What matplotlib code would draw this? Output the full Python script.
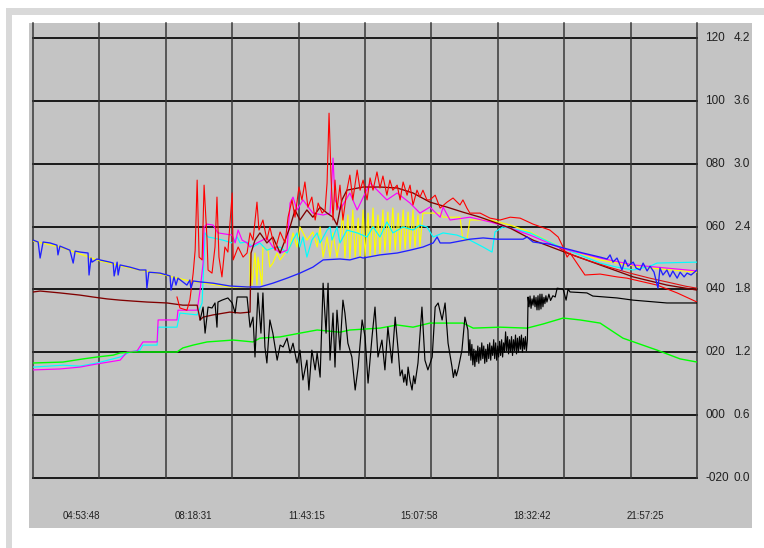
import matplotlib
matplotlib.use('Agg')
import matplotlib.pyplot as plt
import matplotlib.transforms as mtransforms
from matplotlib.patches import Rectangle

plt.rcParams['font.family'] = ['Liberation Sans Narrow', 'Liberation Sans', 'DejaVu Sans']

# time axis in hours of day, values on the left (-20..120) scale
x_start, x_end = 3.445, 23.53
time_labels = ['04:53:48', '08:18:31', '11:43:15', '15:07:58', '18:32:42', '21:57:25']
left_scale = ['120', '100', '080', '060', '040', '020', '000', '-020']
right_scale = ['4.2', '3.6', '3.0', '2.4', '1.8', '1.2', '0.6', '0.0']
scale_values = [120, 100, 80, 60, 40, 20, 0, -20]

t_blue = [3.45, 3.60, 3.66, 3.75, 3.96, 4.17, 4.20, 4.26, 4.56, 4.66, 4.72, 4.87, 5.11, 5.14, 5.20, 5.23,
          5.38, 5.47, 5.77, 5.87, 5.90, 5.99, 6.02, 6.08, 6.38, 6.68, 6.86, 6.89, 6.95, 7.29, 7.59, 7.62,
          7.71, 7.77, 7.83, 8.10, 8.19, 8.22, 8.29, 8.50, 8.89, 9.40, 9.92, 10.31, 10.70, 11.13, 11.52,
          11.91, 12.22, 12.73, 13.03, 13.34, 13.43, 13.94, 14.46, 14.85, 15.24, 15.55, 15.67, 15.76,
          16.06, 16.36, 16.66, 17.06, 17.48, 17.88, 18.27, 18.39, 18.57, 19.08, 19.60, 20.08, 20.60,
          20.81, 20.90, 20.99, 21.11, 21.20, 21.26, 21.35, 21.44, 21.60, 21.69, 21.81, 21.90, 22.02,
          22.11, 22.23, 22.35, 22.41, 22.50, 22.62, 22.71, 22.80, 22.93, 23.02, 23.14, 23.23, 23.35, 23.53]
v_blue = [55.7, 55.1, 50.0, 55.1, 54.8, 54.1, 51.0, 53.8, 52.5, 48.4, 52.2, 51.9, 51.6, 44.6, 50.0, 48.7,
          49.7, 49.4, 48.7, 48.4, 44.3, 48.7, 44.6, 47.8, 47.1, 46.2, 46.2, 40.4, 45.5, 45.2, 44.3, 39.8,
          44.0, 41.4, 43.6, 41.4, 43.0, 40.4, 42.7, 42.4, 42.0, 41.1, 40.8, 40.8, 42.0, 43.6, 45.2,
          47.1, 49.4, 49.7, 49.4, 50.3, 50.0, 51.0, 51.6, 52.5, 53.5, 54.8, 56.7, 54.8,
          54.8, 55.4, 56.0, 56.4, 56.0, 56.0, 56.0, 56.7, 55.1, 54.4, 52.9, 51.6, 50.3,
          49.7, 51.0, 48.7, 50.0, 47.8, 46.2, 49.4, 47.4, 48.7, 46.8, 46.2, 48.4, 45.9,
          47.4, 45.5, 40.4, 46.8, 44.6, 46.2, 44.0, 45.9, 43.6, 45.5, 44.0, 45.2, 44.6, 46.2]

t_yellow = [3.45, 4.26, 5.47, 6.38, 7.29, 8.19, 9.40, 10.01, 10.01, 10.07, 10.16, 10.22, 10.25, 10.37,
            10.40, 10.55, 10.61, 10.70, 10.83, 10.92, 11.07, 11.22, 11.31, 11.43, 11.52, 11.73, 11.91,
            12.04, 12.13, 12.22, 12.34, 12.43, 12.52, 12.64, 12.73, 12.82, 12.88, 12.97, 13.03, 13.12,
            13.19, 13.28, 13.34, 13.43, 13.49, 13.58, 13.64, 13.73, 13.79, 13.88, 13.94, 14.03, 14.09,
            14.18, 14.24, 14.33, 14.40, 14.49, 14.55, 14.64, 14.70, 14.79, 14.85, 14.94, 15.00, 15.09,
            15.15, 15.24, 15.45, 15.76, 15.85, 16.36, 16.45, 16.57, 16.66, 17.27, 17.88, 18.48, 19.39,
            20.60, 21.81, 23.53]
v_yellow = [55.4, 53.5, 49.1, 46.8, 44.9, 42.7, 40.8, 40.8, 51.6, 41.4, 51.6, 41.4, 50.3, 41.4,
            53.5, 52.5, 47.1, 48.4, 51.6, 49.4, 51.6, 53.5, 58.0, 53.5, 59.9, 55.7, 58.3,
            53.5, 59.9, 50.3, 56.7, 50.3, 58.0, 50.3, 55.7, 64.6, 50.0, 63.7, 50.0, 65.3,
            50.3, 62.7, 50.0, 65.3, 50.6, 64.3, 50.3, 65.9, 51.0, 63.7, 51.3, 65.3, 51.9,
            64.6, 51.9, 65.9, 52.5, 64.3, 52.5, 65.3, 52.9, 64.6, 53.2, 65.3, 53.5, 63.7,
            53.8, 64.3, 64.3, 64.3, 63.0, 63.0, 55.7, 55.7, 62.1, 62.1, 60.5, 58.3, 53.5,
            49.4, 47.1, 45.5]

t_cyan = [3.45, 4.35, 4.87, 5.38, 6.08, 6.38, 6.68, 6.77, 7.20, 7.23, 7.80, 7.89, 8.41, 8.56, 8.59,
          8.65, 8.74, 8.89, 9.19, 9.47, 9.62, 9.71, 9.92, 10.10, 10.31, 10.52, 10.70, 10.92, 11.13,
          11.31, 11.43, 11.52, 11.61, 11.73, 11.88, 12.04, 12.13, 12.34, 12.43, 12.49, 12.64, 12.73,
          12.94, 13.25, 13.55, 13.73, 13.94, 14.15, 14.33, 14.64, 14.94, 15.15, 15.36, 15.55, 15.85,
          16.27, 16.66, 17.06, 17.33, 17.42, 17.66, 17.88, 18.48, 19.39, 20.60, 21.11, 21.60, 22.11,
          22.32, 23.53]
v_cyan = [15.3, 15.9, 15.6, 16.6, 18.5, 20.1, 20.7, 22.3, 22.3, 28.0, 28.0, 32.5, 31.9, 35.7, 43.0,
          58.0, 56.7, 56.4, 55.7, 54.8, 56.7, 54.8, 55.1, 53.5, 54.8, 52.5, 53.2, 53.5, 51.6,
          55.7, 58.0, 53.5, 56.7, 50.3, 55.7, 58.0, 54.8, 58.9, 59.9, 55.7, 59.9, 54.8,
          58.9, 58.0, 56.7, 59.9, 56.7, 61.5, 58.0, 59.9, 58.9, 60.5, 59.9, 56.7, 58.0,
          57.3, 55.7, 53.5, 51.9, 58.3, 59.9, 59.5, 58.0, 53.5, 48.4, 47.1, 46.2, 47.4,
          48.4, 48.7]

t_magenta = [3.45, 4.26, 4.87, 5.38, 6.08, 6.29, 6.59, 6.77, 7.20, 7.23, 7.80, 7.83, 8.41, 8.50, 8.59,
             8.62, 8.71, 8.89, 9.04, 9.47, 9.56, 9.65, 9.77, 9.92, 10.01, 10.22, 10.52, 10.70, 10.92,
             11.13, 11.22, 11.31, 11.43, 11.61, 11.91, 12.22, 12.43, 12.52, 12.58, 12.73, 13.03, 13.25,
             13.64, 14.15, 14.46, 14.85, 15.15, 15.45, 15.76, 15.85, 16.06, 16.66, 17.27, 17.78, 18.48,
             19.39, 20.60, 21.60, 22.62, 23.53]
v_magenta = [14.4, 14.7, 15.3, 16.3, 17.5, 20.1, 20.4, 23.3, 23.3, 30.3, 30.3, 33.4, 33.4, 39.8, 48.4,
             59.9, 60.8, 60.5, 58.0, 57.3, 54.8, 58.9, 55.7, 54.8, 53.5, 54.8, 56.4, 53.5, 51.6,
             52.5, 67.5, 69.4, 65.3, 68.5, 64.3, 63.7, 64.3, 81.8, 68.5, 65.3, 70.7, 65.3,
             73.9, 68.5, 70.7, 67.5, 64.3, 66.2, 63.0, 66.2, 62.1, 63.0, 61.5, 59.9, 57.3,
             53.2, 50.0, 47.8, 46.8, 45.9]

t_green = [3.45, 4.35, 4.96, 5.38, 5.87, 6.08, 6.47, 7.80, 7.98, 8.29, 8.71, 9.50, 10.10, 10.31, 10.92,
           11.52, 12.04, 12.73, 13.03, 13.94, 14.46, 14.94, 15.45, 16.45, 16.76, 17.57, 18.39, 18.87,
           19.48, 19.99, 20.60, 21.29, 22.32, 23.02, 23.53]
v_green = [16.6, 16.9, 17.9, 18.5, 19.1, 19.8, 20.1, 20.1, 21.4, 22.3, 23.3, 23.9, 23.3, 24.5, 24.9,
           26.1, 27.1, 26.4, 27.1, 27.7, 28.7, 28.0, 29.3, 29.3, 27.7, 28.0, 27.7, 29.0,
           30.9, 30.3, 29.3, 24.5, 20.7, 17.9, 16.9]

t_brown = [3.45, 3.66, 4.26, 4.87, 5.26, 5.68, 6.08, 6.47, 6.89, 7.50, 7.98, 8.41, 8.50, 8.59, 8.89,
           9.40, 9.71, 10.01, 10.04, 10.16, 10.31, 10.52, 10.70, 10.92, 11.07, 11.22, 11.37, 11.52,
           11.73, 11.91, 12.13, 12.34, 12.52, 12.64, 12.79, 12.94, 13.43, 13.94, 14.46, 14.94, 15.45,
           15.97, 16.45, 16.97, 17.48, 17.88, 18.57, 19.60, 20.60, 21.60, 22.62, 23.53]
v_brown = [39.2, 39.5, 38.9, 38.2, 37.6, 37.0, 36.6, 36.3, 36.0, 35.7, 35.0, 35.0, 30.3, 31.2, 31.9,
           32.8, 32.5, 32.8, 51.6, 55.7, 58.0, 54.8, 56.7, 51.6, 55.7, 59.9, 65.3, 62.1,
           65.3, 63.0, 66.2, 64.3, 63.0, 60.5, 68.5, 71.6, 72.6, 72.6, 72.3, 70.7, 67.8,
           66.2, 64.6, 63.0, 61.1, 59.5, 55.7, 51.6, 47.8, 44.0, 41.4, 39.8]

t_red = [7.80, 7.89, 8.10, 8.19, 8.29, 8.35, 8.41, 8.47, 8.56, 8.62, 8.71, 8.74, 8.86, 8.95, 9.01,
         9.07, 9.16, 9.25, 9.34, 9.47, 9.50, 9.65, 9.80, 9.92, 10.01, 10.10, 10.22, 10.28, 10.40,
         10.52, 10.61, 10.77, 10.92, 11.07, 11.16, 11.28, 11.37, 11.49, 11.58, 11.67, 11.76, 11.88,
         11.98, 12.07, 12.19, 12.28, 12.34, 12.40, 12.46, 12.52, 12.58, 12.64, 12.73, 12.82, 12.94,
         13.03, 13.12, 13.25, 13.34, 13.43, 13.55, 13.64, 13.73, 13.85, 13.94, 14.03, 14.15, 14.24,
         14.33, 14.46, 14.55, 14.64, 14.76, 14.85, 14.94, 15.06, 15.15, 15.24, 15.36, 15.45, 15.61,
         15.76, 15.97, 16.15, 16.36, 16.45, 16.57, 16.66, 16.97, 17.27, 17.57, 17.88, 18.18, 18.57,
         19.08, 19.33, 19.48, 19.60, 19.69, 20.14, 20.60, 21.11, 21.41, 22.32, 22.93, 23.53]
v_red = [37.6, 34.1, 33.4, 36.6, 45.2, 52.5, 74.8, 50.3, 49.4, 73.2, 55.7, 46.2, 45.2, 53.5, 69.4,
         50.3, 44.0, 53.5, 51.9, 70.7, 49.4, 53.5, 50.3, 51.6, 58.0, 55.7, 67.8, 58.9, 62.1,
         55.7, 59.9, 52.5, 58.3, 54.8, 63.0, 68.5, 63.0, 72.6, 68.5, 74.2, 66.2, 69.4,
         62.1, 67.5, 64.3, 65.3, 73.9, 96.1, 75.8, 62.1, 74.8, 65.3, 73.2, 62.1, 71.6,
         76.4, 68.5, 78.0, 71.6, 74.8, 68.5, 75.5, 71.6, 77.4, 72.3, 76.1, 70.0, 74.8,
         71.6, 73.2, 68.5, 74.2, 70.0, 73.2, 66.9, 71.6, 69.4, 71.6, 68.5, 68.5, 70.0,
         65.9, 67.8, 69.1, 66.9, 68.5, 65.9, 64.3, 64.3, 62.7, 62.1, 63.0, 62.7, 60.8,
         58.9, 56.7, 53.5, 50.3, 51.6, 44.6, 44.9, 44.0, 43.6, 41.4, 38.9, 36.0]

# second red trace, only in the evening, running just above the brown one
t_red2 = [19.39, 19.75, 20.30, 20.90, 21.50, 22.10, 22.70, 23.20, 23.53]
v_red2 = [53.0, 51.0, 49.0, 47.0, 45.2, 43.6, 42.2, 41.0, 40.4]

t_black = [8.50, 8.59, 8.65, 8.74, 8.86, 8.95, 9.01, 9.04, 9.16, 9.34, 9.47, 9.56, 9.62, 9.92, 10.01,
           10.10, 10.16, 10.25, 10.34, 10.40, 10.46, 10.52, 10.61, 10.70, 10.83, 10.92, 11.01, 11.13,
           11.22, 11.31, 11.43, 11.52, 11.61, 11.73, 11.79, 11.88, 11.98, 12.04, 12.13, 12.22, 12.31,
           12.37, 12.43, 12.52, 12.58, 12.64, 12.73, 12.82, 12.88, 12.97, 13.09, 13.19, 13.28, 13.40,
           13.49, 13.58, 13.70, 13.79, 13.88, 14.00, 14.09, 14.18, 14.30, 14.40, 14.49, 14.55, 14.61,
           14.66, 14.70, 14.75, 14.79, 14.85, 14.91, 14.96, 15.00, 15.09, 15.21, 15.30, 15.39, 15.52,
           15.61, 15.70, 15.82, 15.91, 16.00, 16.12, 16.16, 16.21, 16.25, 16.30, 16.42, 16.51, 16.60,
           16.63, 16.66, 16.69, 16.72, 16.75, 16.78, 16.81, 16.84, 16.87, 16.90, 16.93, 16.96, 16.99,
           17.02, 17.05, 17.08, 17.11, 17.14, 17.17, 17.20, 17.23, 17.26, 17.29, 17.32, 17.35, 17.38,
           17.41, 17.44, 17.47, 17.50, 17.53, 17.56, 17.59, 17.62, 17.65, 17.68, 17.71, 17.74, 17.77,
           17.80, 17.83, 17.86, 17.89, 17.92, 17.95, 17.98, 18.01, 18.04, 18.07, 18.10, 18.13, 18.16,
           18.19, 18.22, 18.25, 18.28, 18.31, 18.34, 18.37, 18.40, 18.42, 18.45, 18.48, 18.51, 18.54,
           18.57, 18.60, 18.63, 18.66, 18.69, 18.72, 18.75, 18.78, 18.81, 18.84, 18.87, 18.90, 18.93,
           18.96, 18.99, 19.05, 19.10, 19.17, 19.24, 19.30, 19.48, 19.57, 19.63, 19.69, 20.20, 20.38,
           21.11, 21.60, 22.62, 23.53]
v_black = [30.3, 34.4, 26.1, 34.4, 34.1, 35.7, 28.0, 36.0, 36.6, 37.3, 35.7, 32.5, 37.6, 37.6, 28.0,
           31.2, 18.5, 38.9, 26.1, 38.9, 21.7, 16.6, 30.3, 26.1, 17.5, 22.3, 21.7, 24.5,
           19.8, 22.9, 16.6, 20.7, 11.2, 17.5, 8.0, 20.7, 14.4, 19.8, 12.1, 42.0, 26.1,
           42.0, 17.5, 32.5, 15.3, 33.4, 20.7, 36.6, 32.5, 22.9, 18.5, 8.0, 15.3, 30.3,
           24.9, 10.2, 24.9, 34.4, 18.5, 23.9, 14.4, 28.0, 16.6, 31.2, 20.7, 12.5, 14.4,
           10.5, 13.0, 9.5, 15.3, 11.0, 8.0, 12.5, 10.0, 16.6, 34.4, 17.5, 14.4, 18.5,
           34.4, 35.7, 30.3, 35.7, 22.9, 15.3, 12.0, 14.5, 12.5, 14.4, 20.7, 31.2, 27.1,
           19.0, 24.0, 17.5, 22.5, 16.0, 21.0, 15.5, 20.5, 17.0, 22.0, 16.5, 21.5, 17.5,
           23.0, 18.0, 22.0, 16.5, 21.0, 17.0, 22.5, 18.0, 23.0, 17.5, 22.0, 19.0, 24.0,
           18.0, 23.0, 17.5, 22.0, 18.5, 23.5, 19.0, 24.0, 18.5, 23.0, 20.0, 26.5, 20.5,
           25.0, 19.5, 24.0, 20.0, 25.0, 19.0, 24.0, 20.5, 25.5, 19.5, 24.5, 20.0, 25.0,
           21.0, 25.5, 20.0, 24.5, 21.0, 25.0, 20.5, 24.0, 37.6, 34.5, 37.9, 34.0, 37.0,
           35.0, 38.0, 34.5, 37.5, 33.5, 38.0, 33.5, 38.5, 33.8, 38.5, 34.5, 37.5, 35.5,
           38.0, 36.0, 38.5, 36.5, 38.0, 37.6, 40.4, 40.1, 36.6, 40.1, 39.2, 38.9, 37.9,
           37.3, 36.6, 35.7, 35.7]


def hours(label):
    h, m, s = label.split(':')
    return int(h) + int(m) / 60 + int(s) / 3600


W, H = 764, 548
fig = plt.figure(figsize=(W / 100, H / 100), dpi=100, facecolor='white')

# outer frame bits and the gray chart panel, kept behind the axes
fig.patches.append(Rectangle((6 / W, 0), 6 / W, 1 - 8 / H, transform=fig.transFigure,
                             facecolor='#d9d9d9', edgecolor='none', zorder=-10))
fig.patches.append(Rectangle((6 / W, 1 - 15 / H), 1, 7 / H, transform=fig.transFigure,
                             facecolor='#d9d9d9', edgecolor='none', zorder=-10))
fig.patches.append(Rectangle((29 / W, 1 - 528 / H), (752 - 29) / W, (528 - 23) / H,
                             transform=fig.transFigure, facecolor='#c4c4c4', edgecolor='none',
                             zorder=-10))

ax = fig.add_axes([33 / W, 1 - 478 / H, (697 - 33) / W, (478 - 23) / H])
ax.set_facecolor('#c4c4c4')
ax.set_xlim(x_start, x_end)
ax.set_ylim(-20, 124.8)
for sp in ax.spines.values():
    sp.set_visible(False)
ax.set_xticks([])
ax.set_yticks([])

# grid
for v in scale_values:
    ax.axhline(v, color='#1a1a1a', lw=1.4, zorder=1, clip_on=False)
step = (x_end - x_start) / 10
for i in range(11):
    ax.axvline(x_start + i * step, color='#383838', lw=1.1, zorder=1, clip_on=False)

ax.plot(t_yellow, v_yellow, color='#ffff00', lw=0.85, zorder=2)
ax.plot(t_cyan, v_cyan, color='#00ffff', lw=0.85, zorder=3)
ax.plot(t_magenta, v_magenta, color='#ff00ff', lw=0.85, zorder=3)
ax.plot(t_brown, v_brown, color='#800000', lw=0.95, zorder=4)
ax.plot(t_red2, v_red2, color='#e01010', lw=0.8, zorder=4)
ax.plot(t_red, v_red, color='#ff0000', lw=0.8, zorder=5)
ax.plot(t_blue, v_blue, color='#2020ff', lw=0.95, zorder=6)
ax.plot(t_green, v_green, color='#00ff00', lw=1.0, zorder=6)
ax.plot(t_black, v_black, color='#000000', lw=0.85, zorder=7)

# bottom time labels
bt = mtransforms.blended_transform_factory(ax.transData, ax.transAxes)
for lab in time_labels:
    ax.text(hours(lab), -38 / 455, lab, transform=bt, ha='center', va='center',
            fontsize=7, color='#202020')

# right-hand scales
rt = mtransforms.blended_transform_factory(fig.transFigure, ax.transData)
for v, a, b in zip(scale_values, left_scale, right_scale):
    fig.text(705 / W, v, a, transform=rt, ha='left', va='center', fontsize=8.5, color='#202020')
    fig.text(734 / W, v, b, transform=rt, ha='left', va='center', fontsize=8.5, color='#202020')

fig.savefig('out.png', dpi=100, facecolor='white')
